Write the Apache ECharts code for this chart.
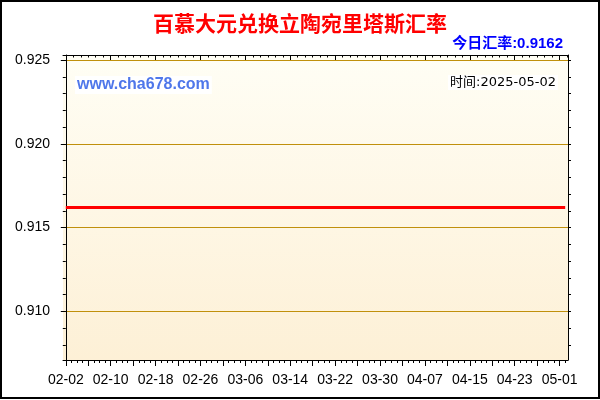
<!DOCTYPE html>
<html>
<head>
<meta charset="utf-8">
<script src="https://cdn.jsdelivr.net/npm/echarts@6/dist/echarts.min.js"></script>
<style>html,body{margin:0;padding:0;background:#fff}#c{width:600px;height:400px}</style>
</head>
<body>
<div id="c"></div>
<script>
const titleText = '百慕大元兑换立陶宛里塔斯汇率';
const rateText = '今日汇率:0.9162';
const siteText = 'www.cha678.com';
const timeText = '时间:2025-05-02';

const dates = [
 '02-02','02-03','02-04','02-05','02-06','02-07','02-08','02-09','02-10','02-11','02-12','02-13','02-14','02-15',
 '02-16','02-17','02-18','02-19','02-20','02-21','02-22','02-23','02-24','02-25','02-26','02-27','02-28',
 '03-01','03-02','03-03','03-04','03-05','03-06','03-07','03-08','03-09','03-10','03-11','03-12','03-13','03-14',
 '03-15','03-16','03-17','03-18','03-19','03-20','03-21','03-22','03-23','03-24','03-25','03-26','03-27','03-28',
 '03-29','03-30','03-31',
 '04-01','04-02','04-03','04-04','04-05','04-06','04-07','04-08','04-09','04-10','04-11','04-12','04-13','04-14',
 '04-15','04-16','04-17','04-18','04-19','04-20','04-21','04-22','04-23','04-24','04-25','04-26','04-27','04-28',
 '04-29','04-30','05-01','05-02'
];

const rates = [
 0.9162,0.9162,0.9162,0.9162,0.9162,0.9162,0.9162,0.9162,0.9162,0.9162,
 0.9162,0.9162,0.9162,0.9162,0.9162,0.9162,0.9162,0.9162,0.9162,0.9162,
 0.9162,0.9162,0.9162,0.9162,0.9162,0.9162,0.9162,0.9162,0.9162,0.9162,
 0.9162,0.9162,0.9162,0.9162,0.9162,0.9162,0.9162,0.9162,0.9162,0.9162,
 0.9162,0.9162,0.9162,0.9162,0.9162,0.9162,0.9162,0.9162,0.9162,0.9162,
 0.9162,0.9162,0.9162,0.9162,0.9162,0.9162,0.9162,0.9162,0.9162,0.9162,
 0.9162,0.9162,0.9162,0.9162,0.9162,0.9162,0.9162,0.9162,0.9162,0.9162,
 0.9162,0.9162,0.9162,0.9162,0.9162,0.9162,0.9162,0.9162,0.9162,0.9162,
 0.9162,0.9162,0.9162,0.9162,0.9162,0.9162,0.9162,0.9162,0.9162,0.9162
];

const yMajorTicks = [0.910, 0.915, 0.920, 0.925];
const yMinorTicks = [0.908,0.909,0.910,0.911,0.912,0.913,0.914,0.915,0.916,0.917,0.918,0.919,0.920,0.921,0.922,0.923,0.924,0.925];
const yMin = 0.9071, yMax = 0.9253;

// top frame tick positions (day units)
const topMajor = [0, 8, 16, 24, 32, 40, 48, 56, 64, 72, 80, 88];
const topMinor = [];
for (let k = 0; k * 4 / 3 <= 89.4; k++) topMinor.push(k * 4 / 3);

const gridColor = '#c0900c';
const font = '"Liberation Sans", Arial, "Noto Sans CJK SC", sans-serif';
const chart = echarts.init(document.getElementById('c'), null, {renderer: 'canvas'});

chart.setOption({
  animation: false,
  backgroundColor: '#ffffff',
  title: [
    {text: titleText, left: 'center', top: 13, padding: 0,
     textStyle: {fontSize: 21, fontWeight: 'bold', color: '#ff0000', fontFamily: '"Noto Sans CJK SC", sans-serif'}},
    {text: rateText, right: 37, top: 36, padding: 0,
     textStyle: {fontSize: 15, fontWeight: 'bold', color: '#0000ff', fontFamily: font}},
    {text: siteText, left: 75, top: 76, padding: [1, 2], backgroundColor: '#ffffff',
     textStyle: {fontSize: 16, fontWeight: 'bold', color: '#4f77ea', fontFamily: font}},
    {text: timeText, right: 42, top: 75, padding: [1, 2], backgroundColor: '#ffffff',
     textStyle: {fontSize: 13, fontWeight: 'normal', color: '#000000', fontFamily: '"DejaVu Sans", "Noto Sans CJK SC", sans-serif'}}
  ],
  grid: {
    left: 63, right: 32, top: 55, bottom: 40, show: true, borderWidth: 0,
    backgroundColor: new echarts.graphic.LinearGradient(0, 0, 0, 1, [
      {offset: 0, color: '#fffef5'}, {offset: 1, color: '#fdf0d6'}
    ])
  },
  xAxis: [
    {type: 'category', data: dates, position: 'bottom', boundaryGap: true,
     axisLine: {show: true, lineStyle: {color: '#000', width: 1}},
     axisTick: {show: true, alignWithLabel: true, interval: 3, length: 6, lineStyle: {color: '#000'}},
     axisLabel: {interval: 7, fontSize: 14, color: '#000', margin: 13, fontFamily: font},
     splitLine: {show: false}},
    {type: 'category', data: dates, position: 'bottom', boundaryGap: true,
     axisLine: {show: false},
     axisTick: {show: true, alignWithLabel: true, interval: 0, length: 3, lineStyle: {color: '#000'}},
     axisLabel: {show: false}, splitLine: {show: false}},
    {type: 'value', position: 'top', min: -0.5, max: 89.5,
     axisLine: {show: true, lineStyle: {color: '#000', width: 1}},
     axisTick: {show: true, inside: true, length: 5, customValues: topMajor, lineStyle: {color: '#000'}},
     axisLabel: {show: false}, splitLine: {show: false}},
    {type: 'value', position: 'top', min: -0.5, max: 89.5,
     axisLine: {show: false},
     axisTick: {show: true, inside: true, length: 2.5, customValues: topMinor, lineStyle: {color: '#000'}},
     axisLabel: {show: false}, splitLine: {show: false}}
  ],
  yAxis: [
    {type: 'value', position: 'left', min: yMin, max: yMax,
     axisLine: {show: true, lineStyle: {color: '#000', width: 1}},
     axisTick: {show: true, length: 5, customValues: yMajorTicks, lineStyle: {color: '#000'}},
     axisLabel: {customValues: yMajorTicks, fontSize: 14, color: '#000', margin: 13, fontFamily: font,
                 formatter: v => v.toFixed(3)},
     splitLine: {show: true, showMaxLine: true, lineStyle: {color: gridColor, width: 1.2}}},
    {type: 'value', position: 'left', min: yMin, max: yMax,
     axisLine: {show: false},
     axisTick: {show: true, length: 3, customValues: yMinorTicks, lineStyle: {color: '#000'}},
     axisLabel: {show: false}, splitLine: {show: false}},
    {type: 'value', position: 'right', min: yMin, max: yMax,
     axisLine: {show: true, lineStyle: {color: '#000', width: 1}},
     axisTick: {show: true, length: 3, customValues: yMinorTicks, lineStyle: {color: '#000'}},
     axisLabel: {show: false}, splitLine: {show: false}}
  ],
  series: [
    {type: 'line', name: 'rate', data: rates, xAxisIndex: 0, yAxisIndex: 0,
     symbol: 'none', lineStyle: {color: '#ff0000', width: 3}, z: 5,
     markLine: {silent: true, symbol: 'none', label: {show: false}, animation: false,
                lineStyle: {color: gridColor, width: 1.2, type: 'solid'},
                data: [{yAxis: yMajorTicks[3]}]}}
  ],
  graphic: [
    {type: 'rect', shape: {x: 1, y: 1, width: 598, height: 397}, z: 100,
     style: {fill: 'none', stroke: '#000', lineWidth: 2}}
  ]
});
</script>
</body>
</html>
